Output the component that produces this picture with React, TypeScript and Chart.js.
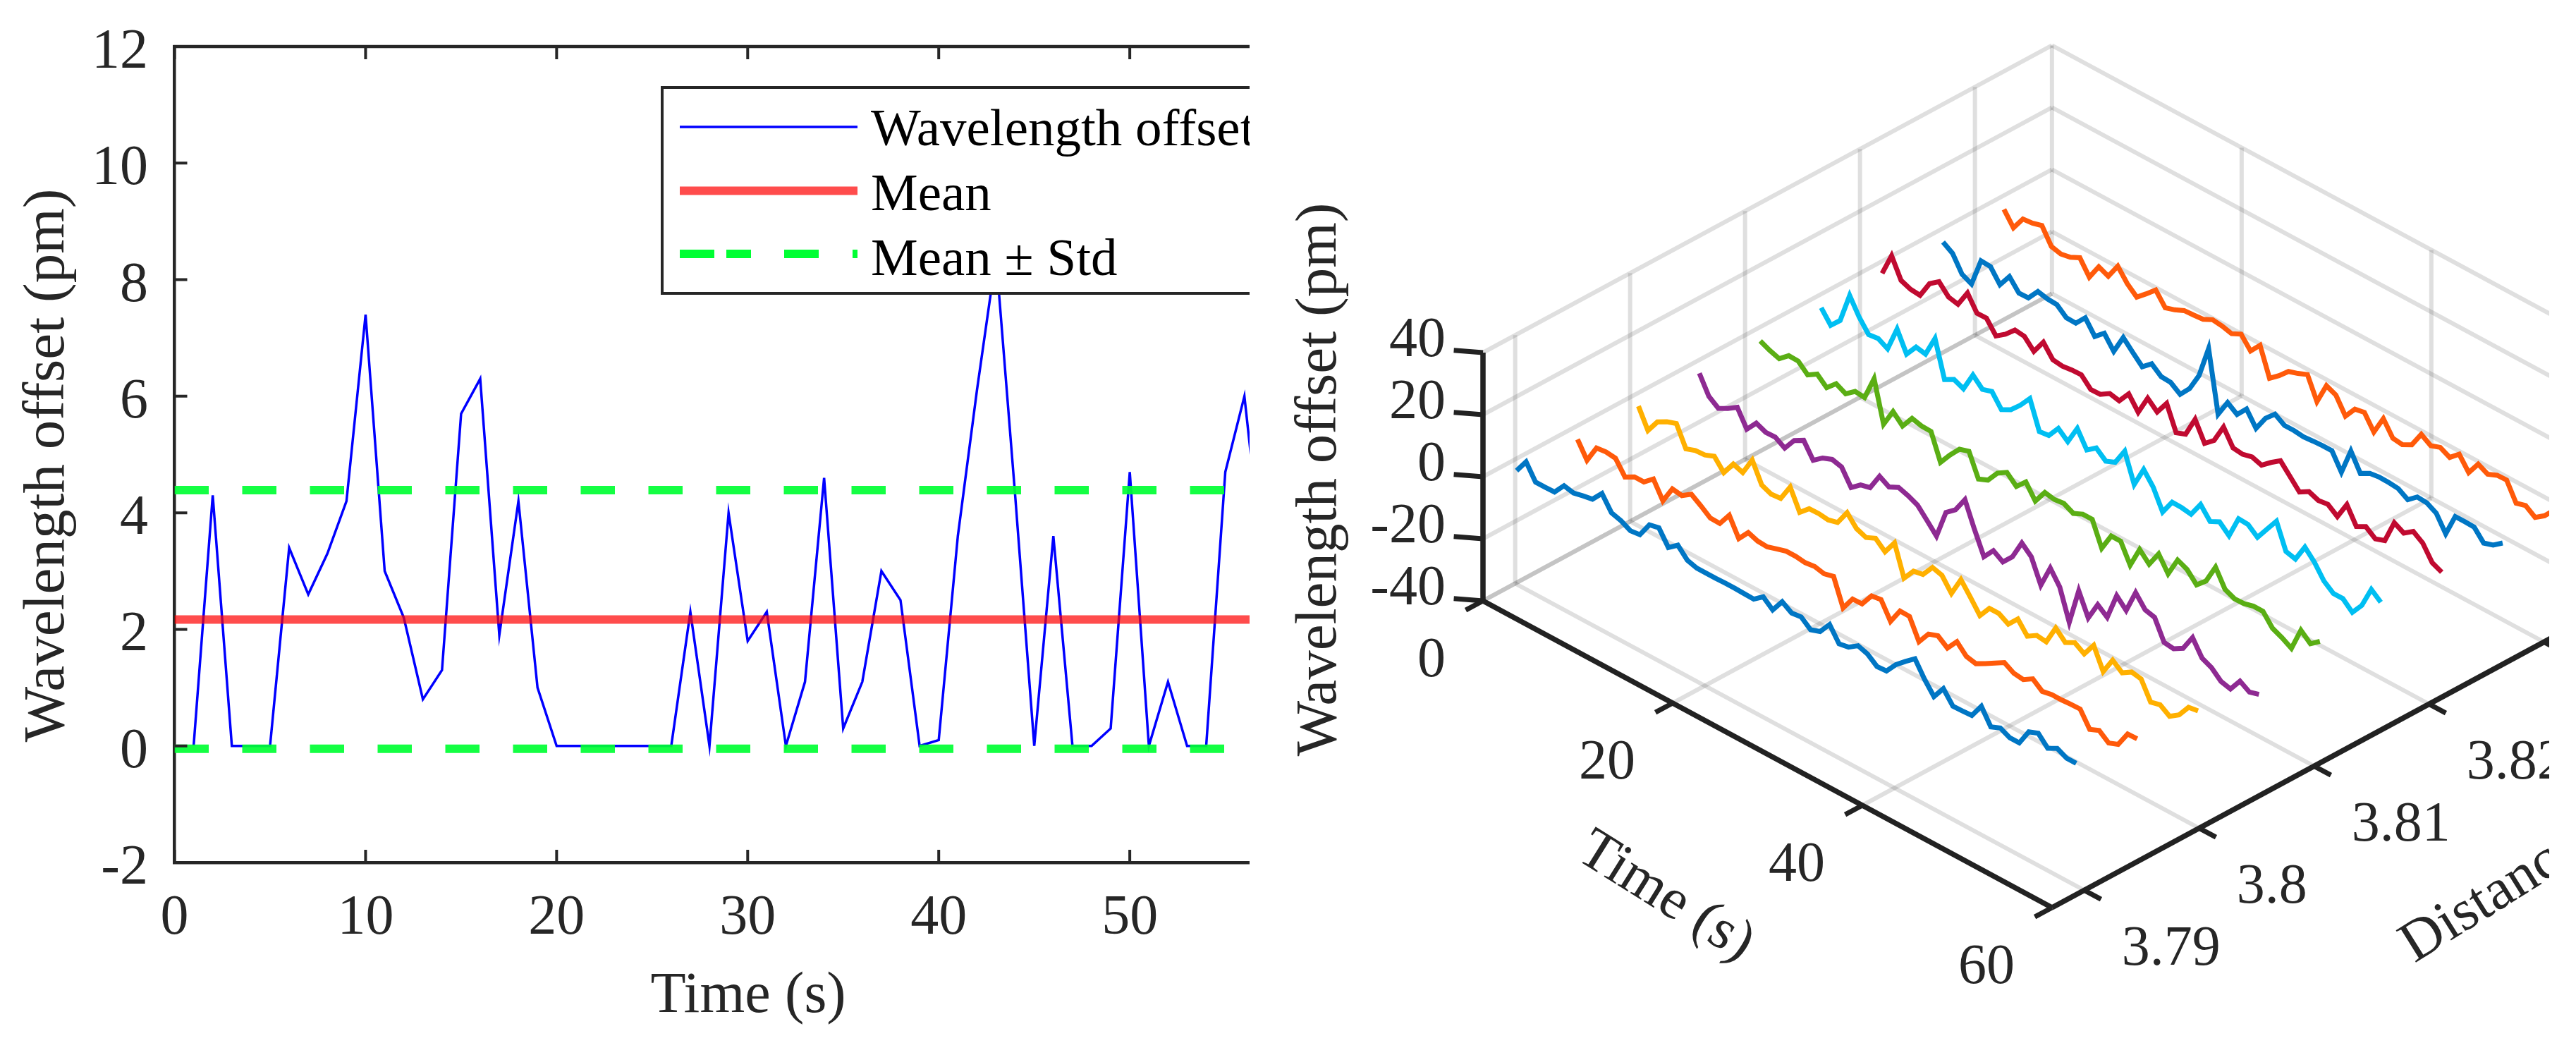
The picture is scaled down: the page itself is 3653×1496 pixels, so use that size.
import React, { useEffect, useRef } from "react";
import { Chart, registerables } from "chart.js";

Chart.register(...registerables);

// ---------- left panel data ----------
const timeSeconds = [1,2,3,4,5,6,7,8,9,10,11,12,13,14,15,16,17,18,19,20,21,22,23,24,25,26,27,28,29,30,31,32,33,34,35,36,37,38,39,40,41,42,43,44,45,46,47,48,49,50,51,52,53,54,55,56,57];
const wavelengthOffset = [0,4.3,0,0,0,3.4,2.6,3.3,4.2,7.4,3.0,2.2,0.8,1.3,5.7,6.3,1.9,4.2,1.0,0,0,0,0,0,0,0,2.3,0,4.0,1.8,2.3,0,1.1,4.6,0.3,1.1,3.0,2.5,0,0.1,3.6,6.1,8.4,4.3,0,3.6,0,0,0.3,4.7,0,1.1,0,0,4.7,6.0,3.0];
const meanOffset = 2.17;
const meanPlusStd = 4.39;
const meanMinusStd = -0.05;
const legendLabels = ["Wavelength offset", "Mean", "Mean ± Std"];

// ---------- right panel data ----------
const seriesDistanceStart = 3.7893;
const seriesDistanceStep = 0.0053;
const series1 = [-0.6,3.9,-1.0,-1.0,-0.9,2.8,2.1,2.8,3.4,6.9,2.3,1.4,-0.2,0.2,5.0,5.7,1.0,3.4,0.2,-0.7,-0.7,-0.7,-0.6,-0.6,-0.7,-0.8,1.6,-1.0,3.3,1.3,1.7,-0.8,0.3,4.2,-0.4,0.2,2.3,1.3,-1.1,-0.9,2.8,5.5,8.0,3.1,-0.9,3.3,-0.7,-0.6,-0.4,4.2,-0.8,0.5,-1.0,-1.0,4.2,5.4,2.2,3.8,2.3,2.3];
const series2 = [-1.1,-6.2,-0.6,-0.2,-0.6,-5.0,-3.3,-3.3,-0.7,-6.1,-0.6,-1.1,1.0,-1.1,-3.4,-3.5,0.8,-5.1,-1.5,-2.6,-2.8,-1.8,-0.9,-0.9,-1.3,-0.9,-1.6,-0.8,-9.3,-4.8,-4.7,-0.5,0,-5.4,-0.4,-0.5,-7.0,-2.9,-1.8,-4.1,-0.4,-3.5,-4.2,-2.5,-0.7,1.1,-0.7,-1.1,0.8,-1.6,-1.0,-1.0,-0.8,-0.7,-5.6,-4.3,-6.7,-5.5,-0.5,-0.4];
const series3 = [-1.0,-7.2,-2.8,-1.1,0,-6.5,-5.4,-5.2,-4.0,-7.6,-3.2,-4.3,1.4,-5.0,-6.3,-6.0,-0.7,-7.2,-4.4,-4.3,-4.7,-3.9,0.9,-2.6,-3.8,-2.4,-5.1,-0.6,-10.3,-6.4,-5.8,-1.9,-2.8,-7.0,-0.9,-4.9,-9.2,-5.2,-5.2,-7.0,-3.7,-7.6,-5.7,-6.1,0,-3.0,-1.4,-3.4,1.0,-5.8,-0.5,-2.9,-1.0,-1.6,-7.4,-6.6,-8.7,-6.6,-2.5,-2.0];
const series4 = [-1.0,-6.8,-9.0,-7.4,-5.4,-10.8,-7.2,-8.5,-8.4,-10.3,-6.2,-4.5,-9.3,-6.9,-5.7,-6.5,-11.5,-9.0,-8.2,-2.9,-4.7,-3.2,-4.2,-5.6,-8.9,-12.3,-3.0,-0.5,4.4,-3.5,-10.7,-7.1,-9.1,-5.8,0.3,-2.5,-10.0,-2.8,-7.3,-17.0,-5.2,-12.3,-6.4,-8.8,-0.2,-3.3,4.1,0.2,-0.6,-7.0,-7.4,-5.6,-0.5,-5.5,-6.9,-9.7,-10.5,-6.3,-8.2,-7.3];
const series5 = [-1.2,-2.6,-3.6,-1.0,-1.1,-3.9,-2.0,-4.7,-1.8,-3.4,-1.0,-1.3,6.4,-6.6,-0.9,-3.9,0.2,-0.6,-0.7,-9.0,-5.0,-1.5,-0.5,-7.8,-6.5,-2.6,-0.7,-3.6,-0.5,-5.0,-0.6,-1.2,-0.8,-2.4,-1.0,-1.0,-8.7,-3.1,-3.1,-9.2,-2.5,-5.6,-0.6,-5.4,0.7,-0.7,-4.0,-1.1,5.0,-0.5,-1.9,-1.8,-1.0,-1.0,-4.8,-6.2,-8.0,-0.5,-3.2,-0.8];
const series6 = [-1.1,-5.1,-1.9,7.8,2.5,-1.5,-1.1,-2.8,5.2,-1.2,2.7,2.1,8.8,-2.8,-1.1,-2.5,3.6,0.6,1.6,-2.6,-1.0,2.1,5.9,-3.1,-2.7,1.2,-1.4,4.5,-0.8,1.5,-1.1,0.2,5.4,-3.7,2.8,-1.2,-7.6,-2.8,-2.9,-3.4,1.4,-2.4,-0.9,-3.7,3.4,3.2,0.7,5.0,9.2,1.1,0.3,5.8,2.6,-1.8,-4.2,-4.2,-7.0,-3.1,3.7,1.2];
const series7 = [-0.6,6.7,0.4,-0.8,-1.1,4.3,6.6,3.3,2.6,7.9,3.0,3.1,-1.0,1.2,4.2,3.8,0.6,5.2,1.2,0.8,1.2,1.3,-1.8,-1.7,0.2,-0.5,3.4,-0.9,5.3,2.5,6.9,-0.9,0.3,6.7,0.6,3.2,9.2,4.1,3.7,4.5,3.5,6.0,8.2,4.8,1.4,3.2,2.0,2.4,0.1,5.6,0.2,1.8,-0.5,0.6,8.0,6.3,8.5,6.4,1.7,0.3];
const series8 = [-1.1,-3.1,-8.2,-9.7,-0.6,-0.8,-5.0,-0.7,-4.4,-4.3,-0.6,-1.3,-1.5,-4.1,-4.2,-0.8,-5.2,-2.5,-6.7,-0.6,-3.7,-6.7,-4.1,-6.6,-6.8,-9.0,-5.5,0.4,10.7,-8.8,-3.4,-5.6,-2.2,-6.8,-1.9,1.1,-0.9,-0.9,-1.3,-1.0,-0.8,-0.8,-6.1,2.4,-3.2,-1.5,-1.1,-1.2,-1.5,-3.4,-0.9,-1.1,-2.8,-7.8,-0.6,-0.6,-0.7,-4.2,-3.2,-0.9];
const series9 = [-1.2,-5.5,-1.0,-0.7,0.2,-4.9,-5.7,-5.1,-3.6,-8.2,-3.2,-4.6,0.3,-3.7,-6.4,-3.7,-0.8,-4.9,-3.9,-2.5,-2.3,-2.0,-0.5,-0.9,-1.7,-0.2,-4.0,-0.5,-9.5,-7.0,-4.0,-3.0,-1.7,-8.8,-2.0,-3.4,-8.5,-4.6,-4.0,-8.7,-2.7,-7.4,-7.8,-6.2,-1.2,-3.2,-2.1,-3.7,-1.0,-5.3,-0.9,-2.5,-1.2,-1.1,-6.9,-6.0,-8.2,-6.0,-2.6,-1.0];
const allSeries = [series1, series2, series3, series4, series5, series6, series7, series8, series9];
const seriesColors = ["#0076C4", "#FF5A0A", "#FFB000", "#8E2A92", "#5AAE14", "#00BFF2", "#C00A30", "#0076C4", "#FF5A0A"];

const timeTicks = [0, 20, 40, 60];
const distanceTicks = [3.79, 3.8, 3.81, 3.82, 3.83];
const offsetTicks = [-40, -20, 0, 20, 40];
const gridTimeVertical = [0, 20, 40, 60];

// ---------- layout and projection ----------
const SERIF = '"Liberation Serif", "Times New Roman", serif';
const INK = "#262626";
const LEFT_W = 1772;
const H = 1496;
const RIGHT_X = 1772;
const RIGHT_W = 1843;
const D_MIN = 3.7872;
const D_MAX = 3.8367;

function project(t: number, d: number, z: number) {
  const dd = d - D_MIN;
  return {
    x: 2103 + 13.45 * t + 16300 * dd - RIGHT_X,
    y: 852 + 7.25 * t - 8800 * dd - 4.4 * (z + 40),
  };
}

function lineSet(points: { x: number; y: number }[], color: string, width: number, order: number, label = "") {
  return {
    type: "line" as const,
    label,
    data: points,
    borderColor: color,
    borderWidth: width,
    pointRadius: 0,
    tension: 0,
    order,
    clip: false as const,
    borderJoinStyle: "miter" as const,
    borderCapStyle: "butt" as const,
    spanGaps: true,
  };
}

function rotatedText(ctx: CanvasRenderingContext2D, text: string, x: number, y: number, angleDeg: number, font: string, align: CanvasTextAlign, color = INK) {
  ctx.save();
  ctx.translate(x, y);
  ctx.rotate((angleDeg * Math.PI) / 180);
  ctx.font = font;
  ctx.fillStyle = color;
  ctx.textAlign = align;
  ctx.textBaseline = "alphabetic";
  ctx.fillText(text, 0, 0);
  ctx.restore();
}

const leftDecor = {
  id: "leftDecor",
  afterDatasetsDraw(chart: any) {
    const { ctx, chartArea: a, scales } = chart;
    ctx.save();
    ctx.strokeStyle = INK;
    ctx.lineWidth = 4.5;
    ctx.beginPath();
    ctx.moveTo(a.left - 2, a.top);
    ctx.lineTo(a.right, a.top);
    ctx.stroke();
    ctx.lineWidth = 4;
    ctx.beginPath();
    for (const tk of scales.x.ticks) {
      const px = scales.x.getPixelForValue(tk.value);
      ctx.moveTo(px, a.bottom);
      ctx.lineTo(px, a.bottom - 18);
      ctx.moveTo(px, a.top);
      ctx.lineTo(px, a.top + 18);
    }
    for (const tk of scales.y.ticks) {
      const py = scales.y.getPixelForValue(tk.value);
      ctx.moveTo(a.left, py);
      ctx.lineTo(a.left + 18, py);
    }
    ctx.stroke();
    for (const tk of scales.y.ticks) {
      const py = scales.y.getPixelForValue(tk.value);
      rotatedText(ctx, String(tk.value), 210, py + 30, 0, `80px ${SERIF}`, "right");
    }

    // legend
    const boxL = 939, boxT = 124, boxB = 416;
    ctx.fillStyle = "#ffffff";
    ctx.fillRect(boxL, boxT, a.right - boxL + 10, boxB - boxT);
    ctx.lineWidth = 4;
    ctx.strokeStyle = INK;
    ctx.strokeRect(boxL, boxT, a.right - boxL + 20, boxB - boxT);
    const rows = [
      { y: 180, base: 206, color: "#0000ff", w: 3.5, dash: [] as number[] },
      { y: 270.5, base: 298, color: "rgba(255,0,0,0.7)", w: 12, dash: [] as number[] },
      { y: 360, base: 390, color: "#00ff33", w: 12, dash: [49, 17, 35, 47, 49, 48, 7] },
    ];
    rows.forEach((r, i) => {
      ctx.beginPath();
      ctx.setLineDash(r.dash);
      ctx.strokeStyle = r.color;
      ctx.lineWidth = r.w;
      ctx.moveTo(964, r.y);
      ctx.lineTo(1216, r.y);
      ctx.stroke();
      ctx.setLineDash([]);
      rotatedText(ctx, legendLabels[i], 1235, r.base, 0, `75px ${SERIF}`, "left", "#000000");
    });
    ctx.restore();

    rotatedText(ctx, "Time (s)", 1061, 1435, 0, `82px ${SERIF}`, "center");
    rotatedText(ctx, "Wavelength offset (pm)", 90, 660, -90, `83px ${SERIF}`, "center");
  },
};

const rightDecor = {
  id: "rightDecor",
  afterDatasetsDraw(chart: any) {
    const ctx = chart.ctx;
    const font = `80px ${SERIF}`;
    offsetTicks.forEach((z) => {
      const p = project(0, D_MIN, z);
      rotatedText(ctx, String(z), p.x - 53, p.y + 5, 0, font, "right");
    });
    timeTicks.forEach((t) => {
      const p = project(t, D_MIN, -40);
      rotatedText(ctx, String(t), p.x - 53, p.y + 107, 0, font, "right");
    });
    distanceTicks.forEach((d) => {
      const p = project(60, d, -40);
      rotatedText(ctx, String(d), p.x + 53, p.y + 106, 0, font, "left");
    });
    rotatedText(ctx, "Wavelength offset (pm)", 1894 - RIGHT_X, 680, -90, `83px ${SERIF}`, "center");
    rotatedText(ctx, "Time (s)", 2233 - RIGHT_X, 1217, 32, `82px ${SERIF}`, "left");
    rotatedText(ctx, "Distance (km)", 3424 - RIGHT_X, 1366, -32, `82px ${SERIF}`, "left");
  },
};

function buildRightDatasets() {
  const sets: any[] = [];
  const grid = "rgba(38,38,38,0.15)";
  const gridW = 6;
  // grid on the wall at time 0, the wall at the far distance, and the floor
  offsetTicks.forEach((z) => {
    sets.push(lineSet([project(0, D_MIN, z), project(0, D_MAX, z)], grid, gridW, 5));
    sets.push(lineSet([project(0, D_MAX, z), project(60, D_MAX, z)], grid, gridW, 5));
  });
  distanceTicks.forEach((d) => {
    sets.push(lineSet([project(0, d, -40), project(0, d, 40)], grid, gridW, 5));
    sets.push(lineSet([project(0, d, -40), project(60, d, -40)], grid, gridW, 5));
  });
  gridTimeVertical.forEach((t) => {
    sets.push(lineSet([project(t, D_MAX, -40), project(t, D_MAX, 40)], grid, gridW, 5));
  });
  timeTicks.forEach((t) => {
    sets.push(lineSet([project(t, D_MIN, -40), project(t, D_MAX, -40)], grid, gridW, 5));
  });
  // measured traces
  allSeries.forEach((values, s) => {
    const d = seriesDistanceStart + s * seriesDistanceStep;
    sets.push(lineSet(values.map((z, i) => project(i + 1, d, z)), seriesColors[s], 7, 3, `Trace ${s + 1}`));
  });
  // black axes and their ticks
  const black = "#222222";
  sets.push(lineSet([project(0, D_MIN, -40), project(0, D_MIN, 40)], black, 7.5, 1));
  sets.push(lineSet([project(0, D_MIN, -40), project(60, D_MIN, -40)], black, 7.5, 1));
  sets.push(lineSet([project(60, D_MIN, -40), project(60, D_MAX, -40)], black, 7.5, 1));
  const tickT = 3.4; // tick length along the time direction
  const tickD = 0.0015; // tick length along the distance direction
  offsetTicks.forEach((z) => {
    sets.push(lineSet([project(0, D_MIN, z), project(-tickT * 0.52, D_MIN - tickD * 0.72, z)], black, 7, 1));
  });
  timeTicks.forEach((t) => {
    sets.push(lineSet([project(t, D_MIN, -40), project(t, D_MIN - tickD, -40)], black, 7, 1));
  });
  distanceTicks.forEach((d) => {
    sets.push(lineSet([project(60, d, -40), project(60 + tickT * 0.52, d, -40)], black, 7, 1));
  });
  return sets;
}

export default function App() {
  const leftRef = useRef<HTMLCanvasElement>(null);
  const rightRef = useRef<HTMLCanvasElement>(null);

  useEffect(() => {
    const xs = [0, 60];
    const left = new Chart(leftRef.current as HTMLCanvasElement, {
      type: "line",
      data: {
        datasets: [
          lineSet(xs.map((x) => ({ x, y: meanMinusStd })), "rgba(0,255,51,0.92)", 12, 1, legendLabels[2]),
          { ...lineSet(xs.map((x) => ({ x, y: meanPlusStd })), "rgba(0,255,51,0.92)", 12, 1, legendLabels[2]) },
          lineSet(xs.map((x) => ({ x, y: meanOffset })), "rgba(255,0,0,0.7)", 12, 2, legendLabels[1]),
          lineSet(timeSeconds.map((x, i) => ({ x, y: wavelengthOffset[i] })), "#0000ff", 3.5, 3, legendLabels[0]),
        ].map((d: any, i) => (i < 2 ? { ...d, borderDash: [48.5, 47.5], clip: undefined } : { ...d, clip: undefined })),
      },
      options: {
        responsive: false,
        animation: false,
        layout: { padding: { top: 66, left: 0, right: 0, bottom: 0 } },
        plugins: { legend: { display: false }, tooltip: { enabled: false } },
        scales: {
          x: {
            type: "linear",
            min: 0,
            max: 56.27,
            afterFit: (s: any) => { s.height = H - 1223; s.paddingLeft = 0; s.paddingRight = 0; },
            grid: { display: false, drawTicks: false },
            border: { color: INK, width: 4.5 },
            ticks: { stepSize: 10, includeBounds: false, maxRotation: 0, padding: 32, color: INK, font: { family: SERIF, size: 80 } },
          },
          y: {
            min: -2,
            max: 12,
            afterFit: (s: any) => { s.width = 247.5; s.paddingTop = 0; s.paddingBottom = 0; },
            grid: { display: false, drawTicks: false },
            border: { color: INK, width: 4.5 },
            ticks: { stepSize: 2, display: false },
          },
        },
      },
      plugins: [leftDecor],
    } as any);

    const right = new Chart(rightRef.current as HTMLCanvasElement, {
      type: "line",
      data: { datasets: buildRightDatasets() },
      options: {
        responsive: false,
        animation: false,
        layout: { padding: 0 },
        plugins: { legend: { display: false }, tooltip: { enabled: false } },
        scales: {
          x: { type: "linear", display: false, min: 0, max: RIGHT_W },
          y: { type: "linear", display: false, min: 0, max: H, reverse: true },
        },
      },
      plugins: [rightDecor],
    } as any);

    return () => {
      left.destroy();
      right.destroy();
    };
  }, []);

  return (
    <div style={{ position: "absolute", left: 0, top: 0, width: 3653, height: H, background: "#ffffff", overflow: "hidden" }}>
      <canvas ref={leftRef} width={LEFT_W} height={H} style={{ position: "absolute", left: 0, top: 0, width: LEFT_W, height: H }} />
      <canvas ref={rightRef} width={RIGHT_W} height={H} style={{ position: "absolute", left: RIGHT_X, top: 0, width: RIGHT_W, height: H }} />
    </div>
  );
}
